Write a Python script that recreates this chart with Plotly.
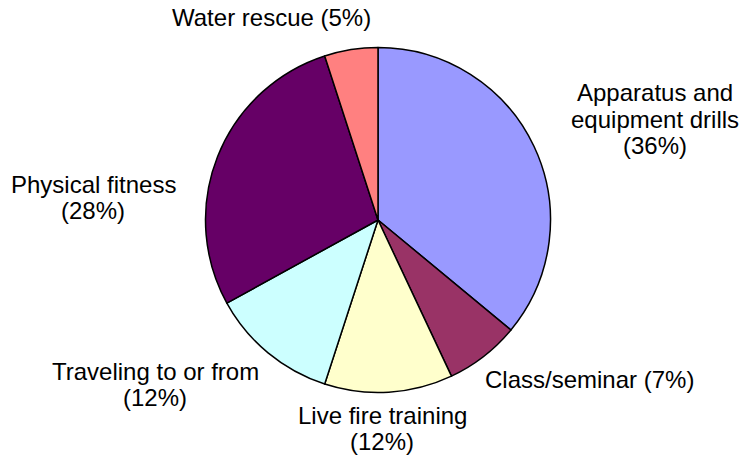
import plotly.graph_objects as go

# Data
categories = ["Apparatus and equipment drills", "Class/seminar", "Live fire training",
              "Traveling to or from", "Physical fitness", "Water rescue"]
values = [36, 7, 12, 12, 28, 5]
colors = ["#9999FF", "#993366", "#FFFFCC", "#CCFFFF", "#660066", "#FF8080"]

# label text lines (text content derived from data)
label_lines = [
    ["Apparatus and", "equipment drills", f"({values[0]}%)"],
    [f"Class/seminar ({values[1]}%)"],
    ["Live fire training", f"({values[2]}%)"],
    ["Traveling to or from", f"({values[3]}%)"],
    ["Physical fitness", f"({values[4]}%)"],
    [f"Water rescue ({values[5]}%)"],
]

# layout positions of labels (pixel centers: x, first-line y)
W, H = 748, 461
label_pos = [(655, 93), (589, 379), (382, 415), (155, 371), (93, 184), (271, 18)]
line_gap = 26.5

cx, cy, r = 378, 220, 172.5

fig = go.Figure(go.Pie(
    labels=categories,
    values=values,
    sort=False,
    direction="clockwise",
    rotation=0,
    marker=dict(colors=colors, line=dict(color="black", width=1.5)),
    textinfo="none",
    hoverinfo="skip",
    showlegend=False,
    domain=dict(x=[(cx - r) / W, (cx + r) / W], y=[(H - cy - r) / H, (H - cy + r) / H]),
))

annotations = []
for lines, (px, py) in zip(label_lines, label_pos):
    for i, line in enumerate(lines):
        annotations.append(dict(
            x=px / W, y=1 - (py + i * line_gap) / H, xref="paper", yref="paper",
            text=line, showarrow=False, xanchor="center", yanchor="middle",
            font=dict(family="Arial, Liberation Sans", size=24, color="black"),
        ))

fig.update_layout(
    width=W, height=H,
    margin=dict(l=0, r=0, t=0, b=0),
    paper_bgcolor="white", plot_bgcolor="white",
    annotations=annotations,
)

fig.write_html("out.html", config={"displayModeBar": False},
               post_script="document.body.style.margin='0';document.body.style.overflow='hidden';")
